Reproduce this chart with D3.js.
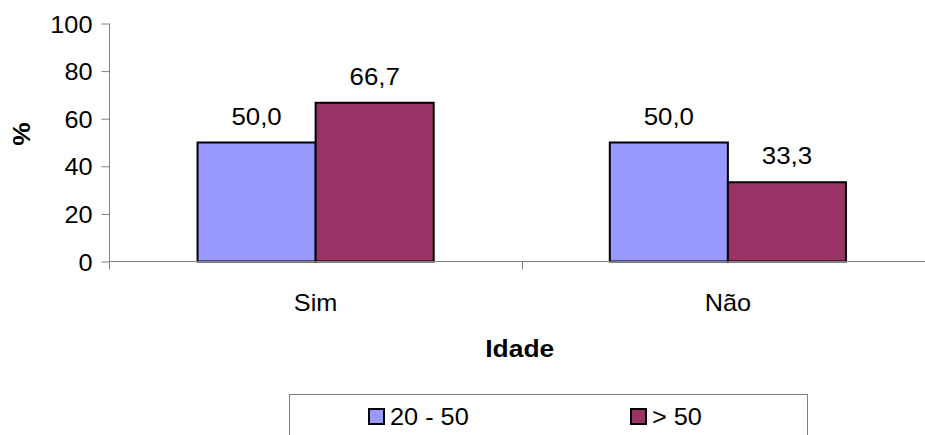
<!DOCTYPE html>
<html>
<head>
<meta charset="utf-8">
<script src="https://cdn.jsdelivr.net/npm/d3@7"></script>
<style>
  html, body { margin: 0; padding: 0; background: #fff; }
  svg { display: block; font-family: "Liberation Sans", Arial, sans-serif; }
</style>
</head>
<body>
<svg id="chart" width="925" height="435"></svg>
<script>
// Answer categories, age groups and percentages per group
const categories = ["Sim", "Não"];
const seriesNames = ["20 - 50", "> 50"];
const seriesColors = ["#9999FF", "#993366"];
const values2050 = [50.0, 50.0];
const valuesOver50 = [66.7, 33.3];
const yTicks = [0, 20, 40, 60, 80, 100];
const xTitle = "Idade";
const yTitle = "%";

const series = [values2050, valuesOver50];
const fmt = v => d3.format(".1f")(v).replace(".", ",");

const svg = d3.select("#chart");
const sx = 1.1; // wide text face
const fs = 23;

const plot = { left: 109.5, right: 934, top: 23.5, bottom: 261.5 };

const x = d3.scaleBand()
  .domain(categories)
  .range([plot.left, plot.right])
  .paddingInner(0.4272)
  .paddingOuter(0.2136);

const xs = d3.scaleBand()
  .domain(d3.range(series.length))
  .range([0, x.bandwidth()]);

const y = d3.scaleLinear().domain([0, 100]).range([plot.bottom, plot.top]);

// bars
categories.forEach((c, ci) => {
  series.forEach((s, si) => {
    svg.append("rect")
      .attr("x", x(c) + xs(si))
      .attr("y", y(s[ci]))
      .attr("width", xs.bandwidth())
      .attr("height", y(0) - y(s[ci]))
      .attr("fill", seriesColors[si])
      .attr("stroke", "#000")
      .attr("stroke-width", 2);
  });
});

// value labels
categories.forEach((c, ci) => {
  series.forEach((s, si) => {
    const cx = x(c) + xs(si) + xs.bandwidth() / 2;
    svg.append("text")
      .attr("transform", `translate(${cx},${y(s[ci]) - 18}) scale(${sx},1)`)
      .attr("text-anchor", "middle")
      .attr("font-size", fs + 0.5)
      .attr("fill", "#000")
      .text(fmt(s[ci]));
  });
});

// y axis
const yAxis = svg.append("g")
  .attr("transform", `translate(${plot.left},0)`)
  .call(d3.axisLeft(y).tickValues(yTicks).tickSize(8).tickPadding(0).tickSizeOuter(0));
yAxis.select(".domain").attr("stroke", "#808080").attr("d", `M0,${plot.top}V${plot.bottom + 8}`);
yAxis.selectAll(".tick line").attr("stroke", "#808080");
yAxis.selectAll(".tick text")
  .attr("x", null).attr("dy", null)
  .attr("font-size", fs)
  .attr("font-family", "Liberation Sans, Arial, sans-serif")
  .attr("fill", "#000")
  .attr("text-anchor", "end")
  .attr("transform", `translate(-17,8.5) scale(${sx},1)`);

// x axis: baseline, boundary ticks and category labels
const xAxis = svg.append("g")
  .attr("transform", `translate(0,${plot.bottom})`)
  .call(d3.axisBottom(x).tickSize(0).tickPadding(0).tickSizeOuter(0));
xAxis.select(".domain").attr("stroke", "#808080").attr("d", `M${plot.left},0H${plot.right}`);
xAxis.selectAll(".tick text")
  .attr("y", null).attr("dy", null)
  .attr("font-size", fs)
  .attr("font-family", "Liberation Sans, Arial, sans-serif")
  .attr("fill", "#000")
  .attr("transform", `translate(0,49.5) scale(${sx},1)`);

const bounds = categories.map(c => x(c) - x.step() * x.paddingInner() / 2).slice(1);
xAxis.selectAll(".bound")
  .data(bounds)
  .enter().append("line")
  .attr("class", "bound")
  .attr("x1", d => Math.round(d) + 0.5).attr("x2", d => Math.round(d) + 0.5)
  .attr("y1", 0).attr("y2", 8)
  .attr("stroke", "#808080");

// axis titles
svg.append("text")
  .attr("transform", `translate(${(plot.left + 934) / 2 - 2},357) scale(${sx},1)`)
  .attr("text-anchor", "middle")
  .attr("font-size", fs + 1)
  .attr("font-weight", "bold")
  .text(xTitle);

svg.append("text")
  .attr("transform", `translate(30,134) rotate(-90) scale(${sx},1)`)
  .attr("text-anchor", "middle")
  .attr("font-size", fs + 1)
  .attr("font-weight", "bold")
  .text(yTitle);

// legend
const legend = svg.append("g");
legend.append("rect")
  .attr("x", 289.5).attr("y", 394.5)
  .attr("width", 518).attr("height", 60)
  .attr("fill", "#fff").attr("stroke", "#808080");

const legendX = [369, 631];
seriesNames.forEach((name, i) => {
  legend.append("rect")
    .attr("x", legendX[i]).attr("y", 409)
    .attr("width", 15).attr("height", 15)
    .attr("fill", seriesColors[i])
    .attr("stroke", "#000").attr("stroke-width", 2);
  legend.append("text")
    .attr("transform", `translate(${legendX[i] + 21},424.5) scale(${sx},1)`)
    .attr("font-size", fs)
    .text(name);
});
</script>
</body>
</html>
